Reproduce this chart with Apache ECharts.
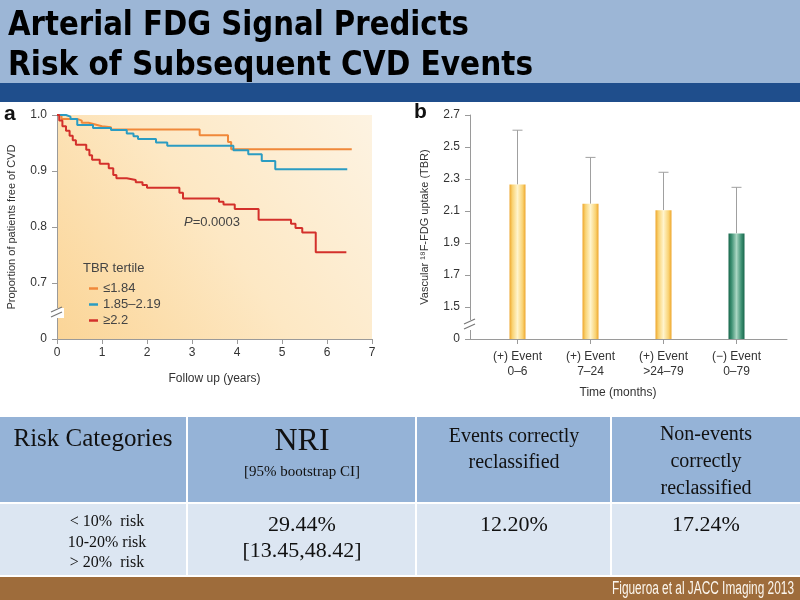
<!DOCTYPE html>
<html>
<head>
<meta charset="utf-8">
<script src="https://cdn.jsdelivr.net/npm/echarts@6/dist/echarts.min.js"></script>
<style>html,body{margin:0;padding:0;background:#fff}#c{width:800px;height:600px}</style>
</head>
<body>
<div id="c"></div>
<script>
// ---------- DATA ----------
var titleLines = ['Arterial FDG Signal Predicts', 'Risk of Subsequent CVD Events'];

// Panel a: Kaplan-Meier curves (years, proportion free of CVD)
var kmNames = ['\u22641.84', '1.85\u20132.19', '\u22652.2'];
var lowT  = [0, 0.1, 0.45, 0.55, 0.7, 0.85, 1.0, 1.2, 3.17, 3.8, 3.87, 6.55];
var lowS  = [1.0, 0.993, 0.99, 0.986, 0.983, 0.98, 0.978, 0.974, 0.964, 0.952, 0.939, 0.939];
var midT  = [0, 0.2, 0.3, 0.45, 0.8, 1.2, 1.55, 1.7, 1.8, 2.2, 2.45, 3.92, 4.25, 4.55, 4.85, 6.45];
var midS  = [1.0, 0.997, 0.993, 0.982, 0.977, 0.973, 0.967, 0.962, 0.957, 0.951, 0.945, 0.937, 0.93, 0.918, 0.903, 0.903];
var highT = [0, 0.05, 0.12, 0.2, 0.28, 0.35, 0.42, 0.65, 0.72, 0.78, 0.95, 1.15, 1.25, 1.32, 1.55, 1.75, 1.9, 2.0, 2.72, 2.8, 3.6, 3.7, 3.95, 4.48, 5.2, 5.3, 5.45, 5.75, 6.43];
var highS = [1.0, 0.99, 0.98, 0.972, 0.963, 0.955, 0.947, 0.938, 0.928, 0.92, 0.913, 0.905, 0.893, 0.887, 0.884, 0.88, 0.875, 0.87, 0.861, 0.851, 0.845, 0.84, 0.832, 0.813, 0.806, 0.798, 0.79, 0.755, 0.755];

// Panel b: TBR by time to event
var barCats  = ['(+) Event\n0\u20136', '(+) Event\n7\u201324', '(+) Event\n>24\u201379', '(\u2212) Event\n0\u201379'];
var barMeans = [2.265, 2.145, 2.105, 1.96];
var barUpper = [2.605, 2.435, 2.342, 2.248];

// Table
var tableHeader = [['Risk Categories'], ['NRI', '[95% bootstrap CI]'], ['Events correctly', 'reclassified'], ['Non-events', 'correctly', 'reclassified']];
var tableRisk = ['< 10%  risk', '10-20% risk', '> 20%  risk'];
var tableNRI = ['29.44%', '[13.45,48.42]'];
var tableEvents = '12.20%';
var tableNonEvents = '17.24%';
var citation = 'Figueroa et al JACC Imaging 2013';

// ---------- CHART ----------
function zip(t, s) { return t.map(function (v, i) { return [v, s[i]]; }); }
var measureCtx = document.createElement('canvas').getContext('2d');
function textW(font, t) { measureCtx.font = font; return measureCtx.measureText(t).width; }

var kmColors = ['#f0883a', '#2b9cc2', '#d3302b'];
var axisGray = '#9a9a9a';
var lblStyle = { color: '#333', fontSize: 12, fontFamily: 'Liberation Sans' };

var yellowFill = new echarts.graphic.LinearGradient(0, 0, 1, 0, [
  { offset: 0, color: '#eea62c' }, { offset: 0.18, color: '#f9d272' },
  { offset: 0.5, color: '#fff4cc' }, { offset: 0.82, color: '#f9d272' }, { offset: 1, color: '#eea62c' }]);
var greenFill = new echarts.graphic.LinearGradient(0, 0, 1, 0, [
  { offset: 0, color: '#17664b' }, { offset: 0.2, color: '#3f9274' },
  { offset: 0.5, color: '#a9d6c2' }, { offset: 0.8, color: '#3f9274' }, { offset: 1, color: '#17664b' }]);

var graphics = [];
// title bar
graphics.push({ type: 'rect', shape: { x: 0, y: 0, width: 800, height: 83 }, style: { fill: '#9cb6d6' }, z: -10 });
graphics.push({ type: 'rect', shape: { x: 0, y: 83, width: 800, height: 19 }, style: { fill: '#1f4e8c' }, z: -10 });
var titleFont = 'bold 33px "DejaVu Sans Condensed", "DejaVu Sans", sans-serif';
var titleTargetW = [461, 525];
titleLines.forEach(function (t, i) {
  var sx = titleTargetW[i] / textW(titleFont, t);
  graphics.push({ type: 'text', x: 8, y: 26 + i * 40, scaleX: sx, originX: 0,
    style: { text: t, fill: '#000', font: titleFont, textVerticalAlign: 'middle' } });
});
// panel letters
graphics.push({ type: 'text', left: 4, top: 104, style: { text: 'a', fill: '#111', font: 'bold 21px "Liberation Sans", sans-serif' } });
graphics.push({ type: 'text', left: 414, top: 102, style: { text: 'b', fill: '#111', font: 'bold 21px "Liberation Sans", sans-serif' } });
// panel a annotations
graphics.push({ type: 'text', left: 83, top: 262, style: { text: 'TBR tertile', fill: '#444', font: '13px "Liberation Sans", sans-serif' } });
graphics.push({ type: 'text', left: 184, top: 216, style: { text: '{i|P}=0.0003', fill: '#444', font: '13px "Liberation Sans", sans-serif', rich: { i: { fontStyle: 'italic', fontSize: 13, fill: '#444', fontFamily: 'Liberation Sans' } } } });
// axis break marks
function brk(x, y) {
  graphics.push({ type: 'rect', shape: { x: x - 7, y: y - 5, width: 14, height: 10 }, style: { fill: '#fff' }, z: 50 });
  graphics.push({ type: 'line', shape: { x1: x - 6, y1: y - 1, x2: x + 5, y2: y - 6 }, style: { stroke: '#777', lineWidth: 1.2 }, z: 51 });
  graphics.push({ type: 'line', shape: { x1: x - 6, y1: y + 4, x2: x + 5, y2: y - 1 }, style: { stroke: '#777', lineWidth: 1.2 }, z: 51 });
}
brk(57, 313);
brk(470, 325);
// table
var cols = [[0, 186], [188, 415], [417, 610], [612, 800]];
cols.forEach(function (c) {
  graphics.push({ type: 'rect', shape: { x: c[0], y: 417, width: c[1] - c[0], height: 85 }, style: { fill: '#95b3d7' }, z: -10 });
  graphics.push({ type: 'rect', shape: { x: c[0], y: 504, width: c[1] - c[0], height: 71 }, style: { fill: '#dce6f2' }, z: -10 });
});
graphics.push({ type: 'rect', shape: { x: 0, y: 577, width: 800, height: 23 }, style: { fill: '#9e6c3b' }, z: -10 });
function ctext(x, y, t, size) {
  graphics.push({ type: 'text', x: x, y: y, style: { text: t, fill: '#111', font: size + 'px "Liberation Serif", serif', textAlign: 'center', textVerticalAlign: 'middle' } });
}
ctext(93, 439, tableHeader[0][0], 25);
ctext(302, 442, tableHeader[1][0], 32);
ctext(302, 472, tableHeader[1][1], 15);
ctext(514, 437, tableHeader[2][0], 20);
ctext(514, 463, tableHeader[2][1], 20);
ctext(706, 435, tableHeader[3][0], 20);
ctext(706, 462, tableHeader[3][1], 20);
ctext(706, 489, tableHeader[3][2], 20);
tableRisk.forEach(function (t, i) { ctext(107, 522 + i * 20.5, t, 16); });
ctext(302, 525, tableNRI[0], 22);
ctext(302, 551, tableNRI[1], 22);
ctext(514, 525, tableEvents, 22);
ctext(706, 525, tableNonEvents, 22);
var citeFont = '18px "Liberation Sans", sans-serif';
var citeSx = 182 / textW(citeFont, citation);
graphics.push({ type: 'text', x: 794, y: 589, scaleX: citeSx, originX: 0,
  style: { text: citation, fill: '#fbf6ee', font: citeFont, textAlign: 'right', textVerticalAlign: 'middle' } });

var plotBg = new echarts.graphic.LinearGradient(0, 1, 1, 0, [
  { offset: 0, color: '#fbd597' }, { offset: 0.5, color: '#fde8c4' }, { offset: 1, color: '#fdf3e2' }]);

var option = {
  animation: false,
  backgroundColor: '#fff',
  grid: [
    { left: 57, top: 115, right: 428, bottom: 261, show: true, backgroundColor: plotBg, borderWidth: 0 },
    { left: 470, top: 115, right: 13, bottom: 261 },
    { left: 481, top: 115, right: 27, bottom: 261 }
  ],
  legend: {
    left: 84, top: 277, orient: 'vertical', icon: 'rect', itemWidth: 9, itemHeight: 2.5, itemGap: 3,
    textStyle: { color: '#444', fontSize: 13, fontFamily: 'Liberation Sans' },
    data: kmNames
  },
  xAxis: [
    { gridIndex: 0, type: 'value', min: 0, max: 7, interval: 1,
      name: 'Follow up (years)', nameLocation: 'middle', nameGap: 34,
      nameTextStyle: { color: '#333', fontSize: 12, fontFamily: 'Liberation Sans' },
      axisLine: { lineStyle: { color: axisGray } }, axisTick: { show: true, length: 5, lineStyle: { color: axisGray } },
      axisLabel: Object.assign({ margin: 8 }, lblStyle), splitLine: { show: false } },
    { gridIndex: 1, type: 'value', min: 0, max: 1, show: true,
      axisLine: { lineStyle: { color: axisGray } }, axisTick: { show: false }, axisLabel: { show: false }, splitLine: { show: false } },
    { gridIndex: 2, type: 'category', data: barCats,
      name: 'Time (months)', nameLocation: 'middle', nameGap: 48,
      nameTextStyle: { color: '#333', fontSize: 12, fontFamily: 'Liberation Sans', padding: [0, 18, 0, 0] },
      axisLine: { show: false }, axisTick: { show: true, alignWithLabel: true, length: 5, lineStyle: { color: axisGray } },
      axisLabel: Object.assign({ margin: 10, lineHeight: 15 }, lblStyle), splitLine: { show: false } }
  ],
  yAxis: [
    { gridIndex: 0, type: 'value', min: 0.6, max: 1.0, interval: 0.1,
      name: 'Proportion of patients free of CVD', nameLocation: 'middle', nameGap: 40,
      nameTextStyle: { color: '#333', fontSize: 11, fontFamily: 'Liberation Sans' },
      axisLine: { show: true, lineStyle: { color: axisGray } }, axisTick: { show: true, length: 5, lineStyle: { color: axisGray } },
      axisLabel: Object.assign({ margin: 10, formatter: function (v) { return Math.abs(v - 0.6) < 1e-6 ? '0' : v.toFixed(1); } }, lblStyle),
      splitLine: { show: false } },
    { gridIndex: 1, type: 'value', min: 1.3, max: 2.7, interval: 0.2,
      name: 'Vascular \u00B9\u2078F-FDG uptake (TBR)', nameLocation: 'middle', nameGap: 40,
      nameTextStyle: { color: '#333', fontSize: 11, fontFamily: 'Liberation Sans' },
      axisLine: { show: true, lineStyle: { color: axisGray } }, axisTick: { show: true, length: 5, lineStyle: { color: axisGray } },
      axisLabel: Object.assign({ margin: 10, formatter: function (v) { return Math.abs(v - 1.3) < 1e-6 ? '0' : v.toFixed(1); } }, lblStyle),
      splitLine: { show: false } },
    { gridIndex: 2, type: 'value', min: 1.3, max: 2.7, show: false }
  ],
  series: [
    { name: kmNames[0], type: 'line', xAxisIndex: 0, yAxisIndex: 0, step: 'end', showSymbol: false, data: zip(lowT, lowS), lineStyle: { width: 2, color: kmColors[0] }, itemStyle: { color: kmColors[0] } },
    { name: kmNames[1], type: 'line', xAxisIndex: 0, yAxisIndex: 0, step: 'end', showSymbol: false, data: zip(midT, midS), lineStyle: { width: 2, color: kmColors[1] }, itemStyle: { color: kmColors[1] } },
    { name: kmNames[2], type: 'line', xAxisIndex: 0, yAxisIndex: 0, step: 'end', showSymbol: false, data: zip(highT, highS), lineStyle: { width: 2, color: kmColors[2] }, itemStyle: { color: kmColors[2] } },
    { type: 'bar', xAxisIndex: 2, yAxisIndex: 2, barWidth: 16, clip: true,
      data: barMeans.map(function (v, i) { return { value: v, itemStyle: { color: i === 3 ? greenFill : yellowFill } }; }) },
    { type: 'custom', xAxisIndex: 2, yAxisIndex: 2, z: 1,
      data: barMeans.map(function (v, i) { return [i, v, barUpper[i]]; }),
      renderItem: function (params, api) {
        var p0 = api.coord([api.value(0), api.value(1)]);
        var p1 = api.coord([api.value(0), api.value(2)]);
        return { type: 'group', children: [
          { type: 'line', shape: { x1: p0[0], y1: p0[1], x2: p1[0], y2: p1[1] }, style: { stroke: '#a0a0a0', lineWidth: 1 } },
          { type: 'line', shape: { x1: p1[0] - 5, y1: p1[1], x2: p1[0] + 5, y2: p1[1] }, style: { stroke: '#a0a0a0', lineWidth: 1 } }
        ] };
      } }
  ],
  graphic: graphics
};
var chart = echarts.init(document.getElementById('c'), null, { renderer: 'canvas' });
chart.setOption(option);
</script>
</body>
</html>
